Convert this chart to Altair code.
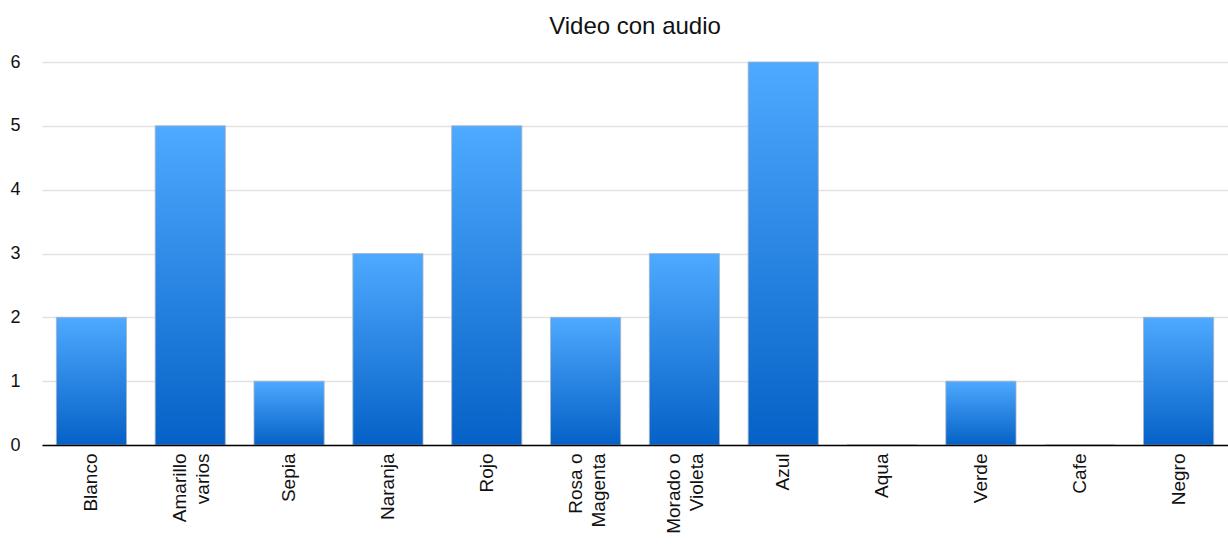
import altair as alt
import pandas as pd

categories = [
    "Blanco", "Amarillo\nvarios", "Sepia", "Naranja", "Rojo", "Rosa o\nMagenta",
    "Morado o\nVioleta", "Azul", "Aqua", "Verde", "Cafe", "Negro",
]
values = [2, 5, 1, 3, 5, 2, 3, 6, 0, 1, 0, 2]
y_ticks = [0, 1, 2, 3, 4, 5, 6]

df = pd.DataFrame({"color": categories, "count": values})

bar_fill = alt.Gradient(
    gradient="linear",
    x1=0, y1=0, x2=0, y2=1,
    stops=[
        alt.GradientStop(offset=0, color="#4ea9ff"),
        alt.GradientStop(offset=1, color="#0561c6"),
    ],
)

FONT = "Liberation Sans"

chart = (
    alt.Chart(df)
    .mark_bar(color=bar_fill, stroke="#a9b4c0", strokeWidth=0.8)
    .encode(
        x=alt.X(
            "color:N",
            sort=None,
            title=None,
            scale=alt.Scale(paddingInner=0.29, paddingOuter=0.145),
            axis=alt.Axis(
                labelAngle=-90,
                labelAlign="right",
                labelBaseline="middle",
                labelPadding=8,
                labelFontSize=19,
                labelColor="#111111",
                labelExpr="split(datum.label, '\\n')",
                labelLineHeight=23,
                # two-line labels are centred on the band as a block
                labelOffset=alt.ExprRef(expr="indexof(datum.label, '\\n') >= 0 ? -10 : 0"),
                ticks=False,
                domain=True,
                domainColor="#000000",
                domainWidth=1.5,
                grid=False,
                zindex=1,
            ),
        ),
        y=alt.Y(
            "count:Q",
            title=None,
            scale=alt.Scale(domain=[0, 6], nice=False),
            axis=alt.Axis(
                values=y_ticks,
                format="d",
                labelFontSize=18,
                labelColor="#111111",
                labelPadding=22,
                ticks=False,
                domain=False,
                grid=True,
                gridColor="#e2e2e2",
                gridWidth=1.5,
            ),
        ),
    )
    .properties(
        width=1186,
        height=383,
        title=alt.TitleParams(
            "Video con audio",
            fontSize=24,
            font=FONT,
            fontWeight="normal",
            color="#111111",
            anchor="middle",
            offset=14,
        ),
        padding={"left": 42, "top": 62, "right": 0, "bottom": 99},
        autosize=alt.AutoSizeParams(type="none"),
    )
    .configure(font=FONT)
    .configure_view(stroke=None)
    .configure_axis(labelFont=FONT)
)

chart.save("out.html", embed_options={"renderer": "svg", "actions": False})
